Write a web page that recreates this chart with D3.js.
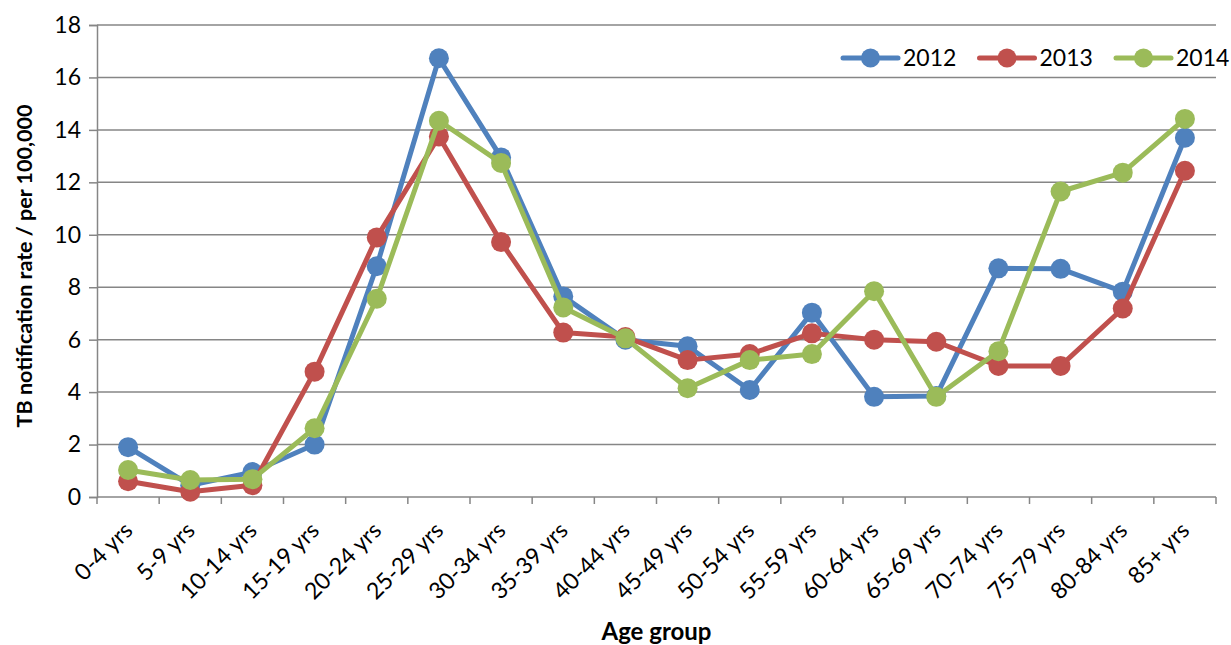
<!DOCTYPE html>
<html>
<head>
<meta charset="utf-8">
<script src="https://cdn.jsdelivr.net/npm/d3@7"></script>
<style>
  body { margin: 0; background: #fff; }
  text { font-family: Lato, "Open Sans", sans-serif; fill: #000; }
</style>
</head>
<body>
<div id="chart"></div>
<script>
// data
const ageGroups = ["0-4 yrs", "5-9 yrs", "10-14 yrs", "15-19 yrs", "20-24 yrs", "25-29 yrs",
  "30-34 yrs", "35-39 yrs", "40-44 yrs", "45-49 yrs", "50-54 yrs", "55-59 yrs",
  "60-64 yrs", "65-69 yrs", "70-74 yrs", "75-79 yrs", "80-84 yrs", "85+ yrs"];
const years = ["2012", "2013", "2014"];
const rate2012 = [1.9, 0.45, 0.95, 2.0, 8.8, 16.73, 12.95, 7.65, 6.0, 5.75, 4.08, 7.03, 3.82, 3.85, 8.72, 8.7, 7.83, 13.7];
const rate2013 = [0.6, 0.2, 0.45, 4.78, 9.9, 13.75, 9.72, 6.27, 6.1, 5.22, 5.45, 6.24, 6.0, 5.92, 5.0, 5.0, 7.19, 12.44];
const rate2014 = [1.03, 0.65, 0.68, 2.62, 7.56, 14.35, 12.74, 7.23, 6.05, 4.15, 5.22, 5.45, 7.85, 3.82, 5.56, 11.65, 12.37, 14.42];
const yTicks = [0, 2, 4, 6, 8, 10, 12, 14, 16, 18];
const colors = ["#4F81BD", "#C0504D", "#9BBB59"];

class LineChart {
    constructor() {
        this.width = 1231;
        this.height = 645;
        this.margin = {top: 25, right: 15, bottom: 148, left: 97};
    }

    drawChart(divID) {
        const el = document.querySelector("#" + divID);
        el.innerHTML = "";
        const m = this.margin;
        const w = this.width, h = this.height;

        const x = d3.scaleBand()
            .domain(ageGroups)
            .range([m.left, w - m.right])
            .padding(0);
        const y = d3.scaleLinear()
            .domain([0, 18])
            .range([h - m.bottom, m.top]);

        const svg = d3.select(el)
            .append("svg")
            .attr("width", w)
            .attr("height", h);

        // horizontal gridlines
        svg.append("g")
            .selectAll("line")
            .data(yTicks.slice(1))
            .enter().append("line")
            .attr("x1", m.left)
            .attr("x2", w - m.right)
            .attr("y1", (d) => y(d))
            .attr("y2", (d) => y(d))
            .attr("stroke", "#868686")
            .attr("stroke-width", 1.5);

        // y axis
        const yAxis = svg.append("g")
            .attr("transform", "translate(" + m.left + ",0)")
            .call(d3.axisLeft(y).tickValues(yTicks).tickSize(8).tickPadding(8));
        yAxis.selectAll("line").attr("stroke", "#868686").attr("stroke-width", 1.5);
        yAxis.select(".domain").attr("stroke", "#868686").attr("stroke-width", 1.5);
        yAxis.selectAll("text").style("font-size", "23px").attr("font-family", null);

        // x axis: ticks on the category boundaries
        const xAxis = svg.append("g")
            .attr("transform", "translate(0," + y(0) + ")");
        xAxis.append("line")
            .attr("x1", m.left).attr("x2", w - m.right)
            .attr("stroke", "#868686").attr("stroke-width", 1.5);
        const bounds = ageGroups.map((d) => x(d)).concat([w - m.right]);
        xAxis.selectAll(".btick")
            .data(bounds)
            .enter().append("line")
            .attr("class", "btick")
            .attr("x1", (d) => d).attr("x2", (d) => d)
            .attr("y1", 0).attr("y2", 7)
            .attr("stroke", "#868686").attr("stroke-width", 1.5);
        xAxis.selectAll(".xlab")
            .data(ageGroups)
            .enter().append("text")
            .attr("class", "xlab")
            .attr("text-anchor", "end")
            .style("font-size", "23px")
            .attr("transform", (d) => "translate(" + (x(d) + x.bandwidth() / 2 + 6) + ",35) rotate(-45)")
            .text((d) => d);

        // axis titles
        svg.append("text")
            .attr("x", (m.left + w - m.right) / 2)
            .attr("y", 640)
            .attr("text-anchor", "middle")
            .style("font-size", "24px")
            .style("font-weight", "bold")
            .text("Age group");
        svg.append("text")
            .attr("transform", "translate(32," + ((m.top + y(0)) / 2 + 5) + ") rotate(-90)")
            .attr("text-anchor", "middle")
            .style("font-size", "21.5px")
            .style("font-weight", "bold")
            .text("TB notification rate / per 100,000");

        // series
        const series = [rate2012, rate2013, rate2014];
        const line = d3.line()
            .x((d, i) => x(ageGroups[i]) + x.bandwidth() / 2)
            .y((d) => y(d));

        series.forEach((vals, k) => {
            const g = svg.append("g");
            g.append("path")
                .datum(vals)
                .attr("d", line)
                .attr("fill", "none")
                .attr("stroke", colors[k])
                .attr("stroke-width", 5)
                .attr("stroke-linejoin", "round");
            g.selectAll("circle")
                .data(vals)
                .enter().append("circle")
                .attr("cx", (d, i) => x(ageGroups[i]) + x.bandwidth() / 2)
                .attr("cy", (d) => y(d))
                .attr("r", 10)
                .attr("fill", colors[k]);
        });

        // legend
        const legend = svg.append("g")
            .selectAll("g")
            .data(years)
            .enter().append("g")
            .attr("transform", (d, i) => "translate(" + (843 + i * 136.5) + ",58)");
        legend.append("line")
            .attr("x1", 0).attr("x2", 55)
            .attr("stroke", (d, i) => colors[i])
            .attr("stroke-width", 5)
            .attr("stroke-linecap", "round");
        legend.append("circle")
            .attr("cx", 27.5)
            .attr("r", 9.5)
            .attr("fill", (d, i) => colors[i]);
        legend.append("text")
            .attr("x", 60)
            .attr("y", 8)
            .style("font-size", "23px")
            .text((d) => d);
    }
}

new LineChart().drawChart("chart");
</script>
</body>
</html>
